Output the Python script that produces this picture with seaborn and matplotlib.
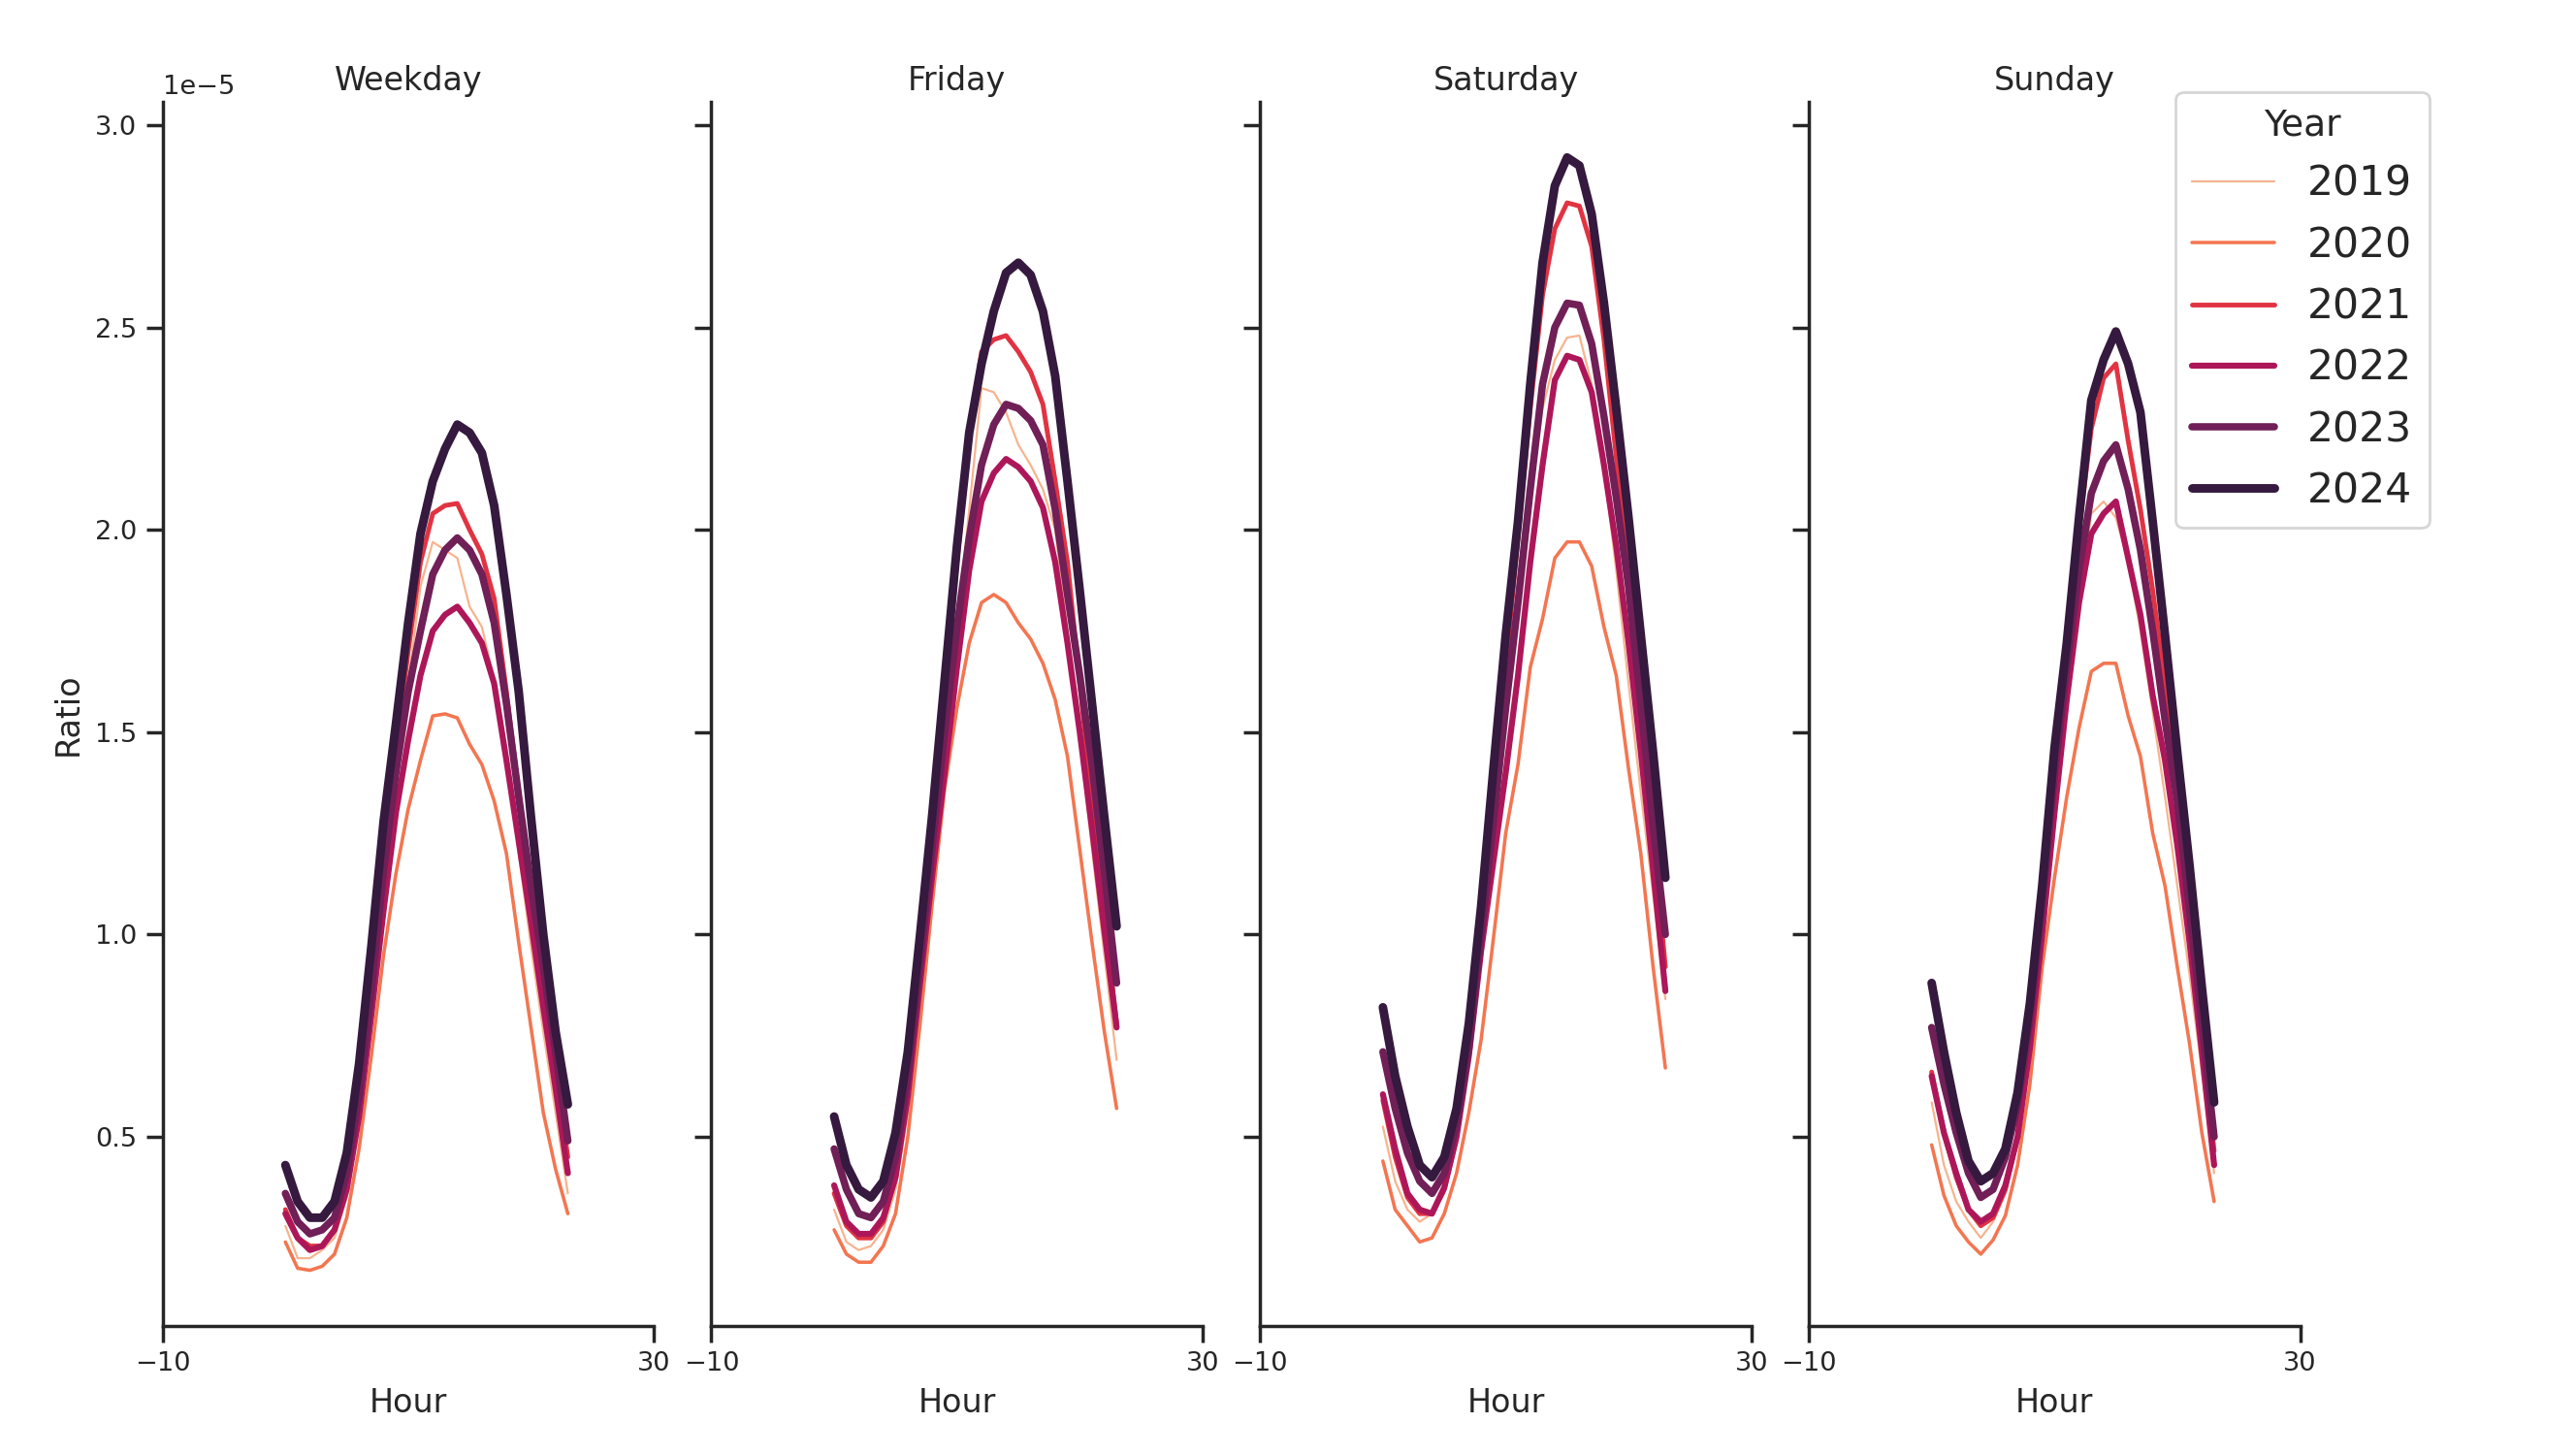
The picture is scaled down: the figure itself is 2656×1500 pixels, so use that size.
import matplotlib
matplotlib.use("Agg")
import numpy as np
import pandas as pd
import seaborn as sns
import matplotlib.pyplot as plt

hours = list(range(24))
years = ["2019", "2020", "2021", "2022", "2023", "2024"]
days = ["Weekday", "Friday", "Saturday", "Sunday"]

# values in units of 1e-5
weekday_2019 = [0.28, 0.20, 0.20, 0.22, 0.25, 0.35, 0.53, 0.80, 1.10, 1.38, 1.62, 1.86, 1.97, 1.95, 1.93, 1.81, 1.76, 1.63, 1.45, 1.20, 0.97, 0.76, 0.56, 0.36]
weekday_2020 = [0.24, 0.175, 0.17, 0.18, 0.21, 0.30, 0.47, 0.70, 0.95, 1.15, 1.31, 1.43, 1.54, 1.545, 1.535, 1.47, 1.42, 1.33, 1.20, 0.98, 0.77, 0.56, 0.42, 0.31]
weekday_2021 = [0.32, 0.25, 0.23, 0.23, 0.27, 0.39, 0.59, 0.87, 1.17, 1.45, 1.70, 1.92, 2.04, 2.06, 2.065, 2.00, 1.94, 1.83, 1.60, 1.35, 1.10, 0.88, 0.66, 0.45]
weekday_2022 = [0.31, 0.25, 0.22, 0.23, 0.27, 0.37, 0.55, 0.80, 1.06, 1.30, 1.48, 1.64, 1.75, 1.79, 1.81, 1.77, 1.72, 1.62, 1.43, 1.23, 1.03, 0.82, 0.62, 0.41]
weekday_2023 = [0.36, 0.29, 0.26, 0.27, 0.30, 0.41, 0.60, 0.86, 1.16, 1.40, 1.60, 1.75, 1.89, 1.95, 1.98, 1.95, 1.89, 1.77, 1.57, 1.34, 1.12, 0.92, 0.71, 0.49]
weekday_2024 = [0.43, 0.34, 0.30, 0.30, 0.34, 0.46, 0.68, 0.97, 1.28, 1.52, 1.77, 1.99, 2.12, 2.20, 2.26, 2.24, 2.19, 2.06, 1.84, 1.60, 1.29, 1.00, 0.76, 0.58]

friday_2019 = [0.32, 0.24, 0.22, 0.23, 0.27, 0.37, 0.56, 0.83, 1.13, 1.45, 1.75, 2.05, 2.35, 2.34, 2.29, 2.21, 2.16, 2.10, 2.00, 1.75, 1.48, 1.21, 0.95, 0.69]
friday_2020 = [0.27, 0.21, 0.19, 0.19, 0.23, 0.31, 0.50, 0.78, 1.08, 1.36, 1.56, 1.72, 1.82, 1.84, 1.82, 1.77, 1.73, 1.67, 1.58, 1.44, 1.21, 0.98, 0.76, 0.57]
friday_2021 = [0.36, 0.28, 0.25, 0.25, 0.29, 0.40, 0.62, 0.92, 1.27, 1.58, 1.92, 2.22, 2.44, 2.47, 2.48, 2.44, 2.39, 2.31, 2.12, 1.92, 1.62, 1.33, 1.05, 0.78]
friday_2022 = [0.38, 0.29, 0.26, 0.26, 0.30, 0.40, 0.60, 0.88, 1.15, 1.40, 1.66, 1.90, 2.07, 2.14, 2.175, 2.155, 2.12, 2.055, 1.92, 1.72, 1.50, 1.26, 1.01, 0.77]
friday_2023 = [0.47, 0.37, 0.31, 0.30, 0.34, 0.45, 0.65, 0.93, 1.22, 1.50, 1.76, 1.98, 2.16, 2.26, 2.31, 2.30, 2.27, 2.21, 2.05, 1.84, 1.64, 1.42, 1.15, 0.88]
friday_2024 = [0.55, 0.43, 0.37, 0.35, 0.39, 0.51, 0.71, 1.00, 1.30, 1.63, 1.96, 2.24, 2.41, 2.54, 2.635, 2.66, 2.63, 2.54, 2.38, 2.12, 1.85, 1.57, 1.29, 1.02]

saturday_2019 = [0.525, 0.39, 0.32, 0.29, 0.31, 0.36, 0.48, 0.68, 0.95, 1.25, 1.55, 1.85, 2.10, 2.30, 2.42, 2.475, 2.48, 2.36, 2.15, 1.90, 1.62, 1.35, 1.10, 0.84]
saturday_2020 = [0.44, 0.32, 0.28, 0.24, 0.25, 0.31, 0.41, 0.56, 0.74, 0.99, 1.25, 1.42, 1.66, 1.78, 1.93, 1.97, 1.97, 1.91, 1.76, 1.64, 1.41, 1.20, 0.92, 0.67]
saturday_2021 = [0.59, 0.45, 0.35, 0.31, 0.31, 0.37, 0.50, 0.72, 1.00, 1.35, 1.66, 1.98, 2.30, 2.58, 2.744, 2.808, 2.80, 2.70, 2.47, 2.18, 1.88, 1.56, 1.24, 0.92]
saturday_2022 = [0.605, 0.47, 0.36, 0.32, 0.31, 0.375, 0.50, 0.70, 0.96, 1.18, 1.40, 1.64, 1.92, 2.16, 2.37, 2.43, 2.42, 2.34, 2.16, 1.96, 1.72, 1.45, 1.16, 0.86]
saturday_2023 = [0.71, 0.57, 0.46, 0.39, 0.36, 0.41, 0.53, 0.72, 1.00, 1.28, 1.56, 1.82, 2.10, 2.36, 2.50, 2.56, 2.555, 2.46, 2.28, 2.08, 1.86, 1.57, 1.27, 1.00]
saturday_2024 = [0.82, 0.65, 0.525, 0.43, 0.40, 0.45, 0.57, 0.78, 1.07, 1.41, 1.74, 2.02, 2.36, 2.66, 2.85, 2.92, 2.90, 2.78, 2.56, 2.30, 2.03, 1.74, 1.45, 1.14]

sunday_2019 = [0.585, 0.43, 0.34, 0.29, 0.25, 0.29, 0.36, 0.49, 0.70, 0.97, 1.28, 1.56, 1.82, 2.04, 2.07, 2.03, 1.92, 1.75, 1.55, 1.34, 1.12, 0.90, 0.66, 0.41]
sunday_2020 = [0.48, 0.355, 0.28, 0.24, 0.21, 0.245, 0.305, 0.43, 0.63, 0.92, 1.14, 1.34, 1.51, 1.65, 1.67, 1.67, 1.54, 1.44, 1.25, 1.12, 0.92, 0.73, 0.51, 0.34]
sunday_2021 = [0.66, 0.51, 0.40, 0.32, 0.28, 0.30, 0.37, 0.50, 0.73, 1.02, 1.35, 1.70, 2.00, 2.25, 2.375, 2.41, 2.22, 2.05, 1.85, 1.62, 1.36, 1.06, 0.75, 0.465]
sunday_2022 = [0.65, 0.51, 0.41, 0.32, 0.29, 0.31, 0.38, 0.50, 0.72, 1.00, 1.30, 1.58, 1.82, 1.99, 2.04, 2.07, 1.93, 1.79, 1.59, 1.43, 1.22, 0.98, 0.71, 0.43]
sunday_2023 = [0.77, 0.63, 0.51, 0.41, 0.35, 0.37, 0.45, 0.58, 0.79, 1.07, 1.40, 1.66, 1.90, 2.09, 2.17, 2.21, 2.10, 1.95, 1.75, 1.53, 1.33, 1.06, 0.78, 0.50]
sunday_2024 = [0.88, 0.71, 0.56, 0.44, 0.39, 0.41, 0.47, 0.61, 0.83, 1.12, 1.46, 1.72, 2.03, 2.32, 2.42, 2.49, 2.41, 2.29, 2.02, 1.74, 1.45, 1.17, 0.87, 0.585]

series = {
    "Weekday": [weekday_2019, weekday_2020, weekday_2021, weekday_2022, weekday_2023, weekday_2024],
    "Friday": [friday_2019, friday_2020, friday_2021, friday_2022, friday_2023, friday_2024],
    "Saturday": [saturday_2019, saturday_2020, saturday_2021, saturday_2022, saturday_2023, saturday_2024],
    "Sunday": [sunday_2019, sunday_2020, sunday_2021, sunday_2022, sunday_2023, sunday_2024],
}

rows = []
for d in days:
    for y, vals in zip(years, series[d]):
        for h, v in zip(hours, vals):
            rows.append((d, y, h, v * 1e-5))
df = pd.DataFrame(rows, columns=["Day", "Year", "Hour", "Ratio"])

sns.set_theme(style="ticks", context="notebook", rc={
    "xtick.labelsize": 9.8, "ytick.labelsize": 9.8,
    "axes.labelsize": 12, "axes.titlesize": 12,
    "axes.titlepad": 4.2,
})

line_widths = dict(zip(years, np.linspace(0.8, 3.2, len(years))))

g = sns.relplot(
    data=df, x="Hour", y="Ratio", col="Day", col_order=days,
    hue="Year", hue_order=years, size="Year", size_order=years,
    sizes=line_widths, palette="rocket_r", kind="line",
    height=5, aspect=0.6, facet_kws=dict(sharey=True),
)
g.set_titles("{col_name}")
g.set(xlim=(-10, 30), xticks=[-10, 30])
g.figure.set_size_inches(13.28, 7.5)
g.figure.subplots_adjust(left=0.0631, right=0.8929, bottom=0.0887, top=0.93, wspace=0.117)
sns.move_legend(g, "upper right", bbox_to_anchor=(0.951, 0.951), frameon=True,
                fontsize=15.3, title_fontsize=13.5)
g.figure.savefig("out.png", dpi=200)
